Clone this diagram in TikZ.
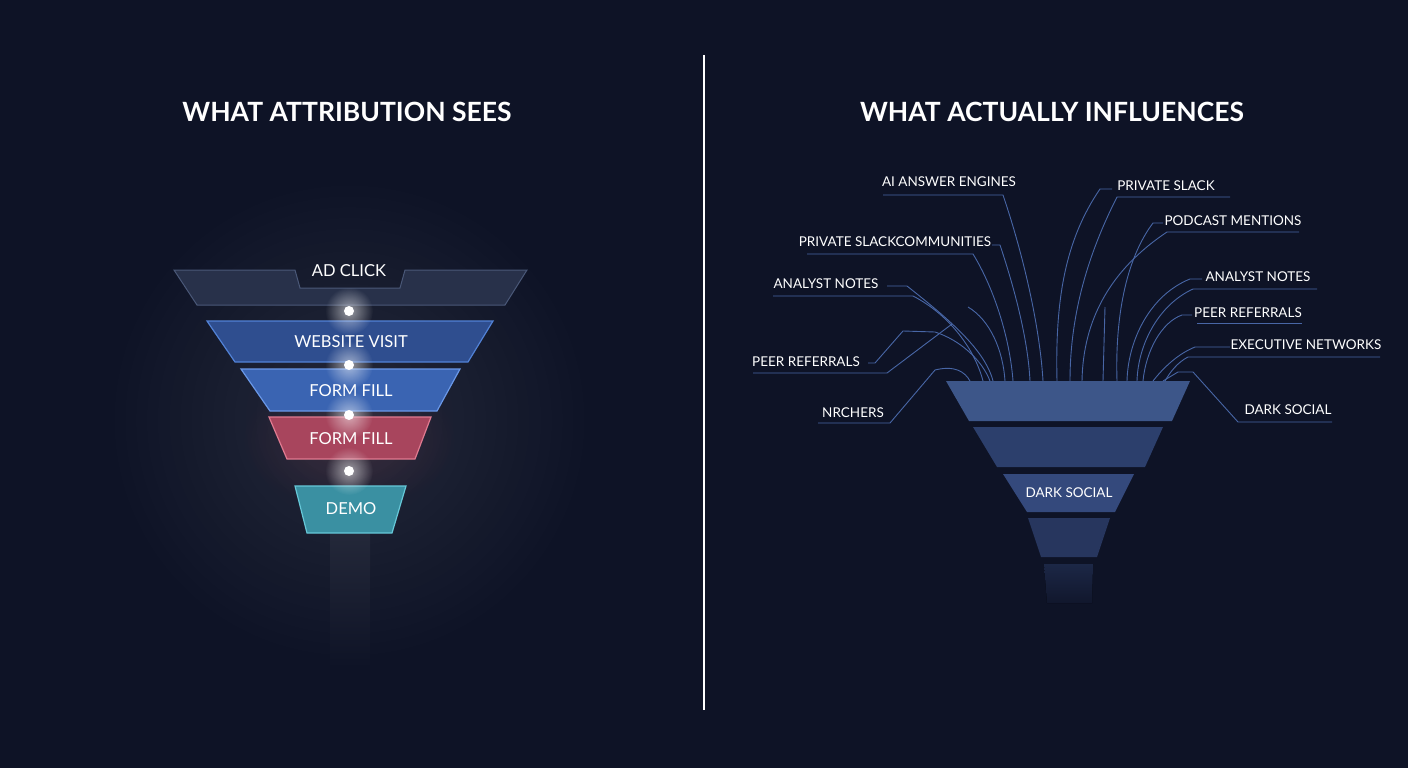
\documentclass[tikz,border=0pt]{standalone}
\usepackage{fontspec}
\setmainfont{Lato}
\usetikzlibrary{calc,fadings}
\definecolor{bg}{HTML}{0E1326}
\definecolor{wirec}{HTML}{4866A6}
\definecolor{adfill}{HTML}{28314A}
\definecolor{adline}{HTML}{4A5878}
\definecolor{webfill}{HTML}{2F4E8F}
\definecolor{webline}{HTML}{5282D6}
\definecolor{formfill}{HTML}{3A64B2}
\definecolor{formline}{HTML}{6A98E8}
\definecolor{redfill}{HTML}{A8455D}
\definecolor{redline}{HTML}{E07A90}
\definecolor{demofill}{HTML}{3A90A2}
\definecolor{demoline}{HTML}{66C8D8}
\definecolor{bA}{HTML}{3D5689}
\definecolor{bB}{HTML}{2C3F6C}
\definecolor{bC}{HTML}{34497C}
\definecolor{bD}{HTML}{27365E}
\definecolor{bE}{HTML}{1C2746}
\tikzfading[name=glowfade, inner color=transparent!0, outer color=transparent!100]
\begin{document}
\begin{tikzpicture}[x=1pt,y=-1pt,
  title/.style={text=white,font=\bfseries\fontsize{26.5}{30}\selectfont,inner sep=0pt},
  stagetxt/.style={text=white,font=\fontsize{16.5}{20}\selectfont,inner sep=0pt},
  lbl/.style={text=white,font=\fontsize{13.5}{16}\selectfont,inner sep=0pt},
  wire/.style={draw=wirec,line width=0.9pt},
  dotn/.style={circle,fill=white,inner sep=0pt,minimum size=10pt}]
\useasboundingbox (0,0) rectangle (1408,768);
\fill[bg] (0,0) rectangle (1408,768);
% soft glow behind left funnel
\fill[white,opacity=0.09,path fading=glowfade] (349,420) ellipse (250 and 250);
\fill[red!60!white,opacity=0.12,path fading=glowfade] (349,440) ellipse (110 and 70);
% divider
\draw[white,line width=1.6pt] (704,55) -- (704,710);
% titles
\node[title] (t1) at (347,112) {WHAT ATTRIBUTION SEES};
\node[title] (t2) at (1052,112) {WHAT ACTUALLY INFLUENCES};
% ---------- left funnel ----------
\fill[top color=white!9!bg,bottom color=bg] (330,533) rectangle (370,668);
\draw[adline,fill=adfill,line width=1pt] (174,270) -- (295,270) -- (300,288) -- (400,288) -- (405,270) -- (527,270) -- (505,305) -- (197,305) -- cycle;
\draw[webline,fill=webfill,line width=1.2pt] (207,321) -- (493,321) -- (468,362) -- (235,362) -- cycle;
\draw[formline,fill=formfill,line width=1.2pt] (241,369) -- (460,369) -- (437,411) -- (270,411) -- cycle;
\draw[redline,fill=redfill,line width=1.2pt] (269,417) -- (431,417) -- (415,459) -- (287,459) -- cycle;
\draw[demoline,fill=demofill,line width=1.2pt] (295,486) -- (406,486) -- (392,533) -- (307,533) -- cycle;
\node[stagetxt] (s1) at (349,271) {AD CLICK};
\node[stagetxt] (s2) at (351,342) {WEBSITE VISIT};
\node[stagetxt] (s3) at (351,391) {FORM FILL};
\node[stagetxt] (s4) at (351,439) {FORM FILL};
\node[stagetxt] (s5) at (351,509) {DEMO};
\foreach \n/\yy in {d1/311,d2/365,d3/415,d4/471}{
  \fill[white,opacity=0.55,path fading=glowfade] (349,\yy) circle (24);
  \node[dotn] (\n) at (349,\yy) {};
}
% ---------- right funnel ----------
\fill[bA] (946,381) -- (1190,381) -- (1172,421) -- (969,421) -- cycle;
\fill[bB] (973,427) -- (1163,427) -- (1145,467) -- (997,467) -- cycle;
\fill[bC] (1003,474) -- (1134,474) -- (1115,512) -- (1027,512) -- cycle;
\fill[bD] (1028,518) -- (1110,518) -- (1097,557) -- (1041,557) -- cycle;
\fill[top color=bE,bottom color=bg!80!bE] (1044,564) -- (1093,564) -- (1092,603) -- (1047,603) -- cycle;
\node[lbl] (ds) at (1069,493) {DARK SOCIAL};
% labels left
\node[lbl] (l1) at (949,182) {AI ANSWER ENGINES};
\node[lbl] (l2) at (895,242) {PRIVATE SLACKCOMMUNITIES};
\node[lbl] (l3) at (826,284) {ANALYST NOTES};
\node[lbl] (l4) at (806,362) {PEER REFERRALS};
\node[lbl] (l5) at (853,413) {NRCHERS};
% labels right
\node[lbl] (r1) at (1166,186) {PRIVATE SLACK};
\node[lbl] (r2) at (1233,221) {PODCAST MENTIONS};
\node[lbl] (r3) at (1258,277) {ANALYST NOTES};
\node[lbl] (r4) at (1248,313) {PEER REFERRALS};
\node[lbl] (r5) at (1306,345) {EXECUTIVE NETWORKS};
\node[lbl] (r6) at (1288,410) {DARK SOCIAL};
% wires left
\draw[wire] (883,195) -- (1003,195) .. controls (1025,260) and (1040,330) .. (1043,381);
\draw[wire] (992,245) -- (1000,245) .. controls (1015,290) and (1028,340) .. (1030,381);
\draw[wire] (807,254) -- (973,254) .. controls (995,290) and (1010,340) .. (1013,381);
\draw[wire] (887,286) -- (907,286) .. controls (950,320) and (985,350) .. (993,381);
\draw[wire] (773,296) -- (913,296) .. controls (950,315) and (975,350) .. (983,381);
\draw[wire] (868,363) -- (875,363) -- (903,331) -- (935,332) .. controls (960,340) and (982,360) .. (990,381);
\draw[wire] (753,373) -- (887,373) -- (952,324);
\draw[wire] (968,307) .. controls (990,320) and (1003,350) .. (1005,381);
\draw[wire] (818,423) -- (890,423) -- (935,370) .. controls (955,365) and (965,372) .. (970,381);
% wires right
\draw[wire] (1112,189) -- (1100,189) .. controls (1065,240) and (1055,300) .. (1057,381);
\draw[wire] (1230,197) -- (1117,197) .. controls (1085,260) and (1070,320) .. (1070,381);
\draw[wire] (1163,223) -- (1153,223) .. controls (1125,260) and (1115,320) .. (1117,381);
\draw[wire] (1299,232) -- (1167,232) .. controls (1110,270) and (1083,320) .. (1082,381);
\draw[wire] (1105,307) -- (1103,381);
\draw[wire] (1202,279) -- (1190,279) .. controls (1150,295) and (1128,340) .. (1127,381);
\draw[wire] (1317,289) -- (1193,289) .. controls (1158,305) and (1138,345) .. (1137,381);
\draw[wire] (1192,315) -- (1182,315) .. controls (1162,322) and (1146,350) .. (1143,381);
\draw[wire] (1197,323) -- (1302,323);
\draw[wire] (1230,347) -- (1195,347) .. controls (1175,355) and (1160,372) .. (1153,381);
\draw[wire] (1380,357) -- (1188,357) .. controls (1178,362) and (1170,372) .. (1165,381);
\draw[wire] (1332,422) -- (1238,422) -- (1193,372) -- (1178,372) -- (1163,381);
\end{tikzpicture}
\end{document}
